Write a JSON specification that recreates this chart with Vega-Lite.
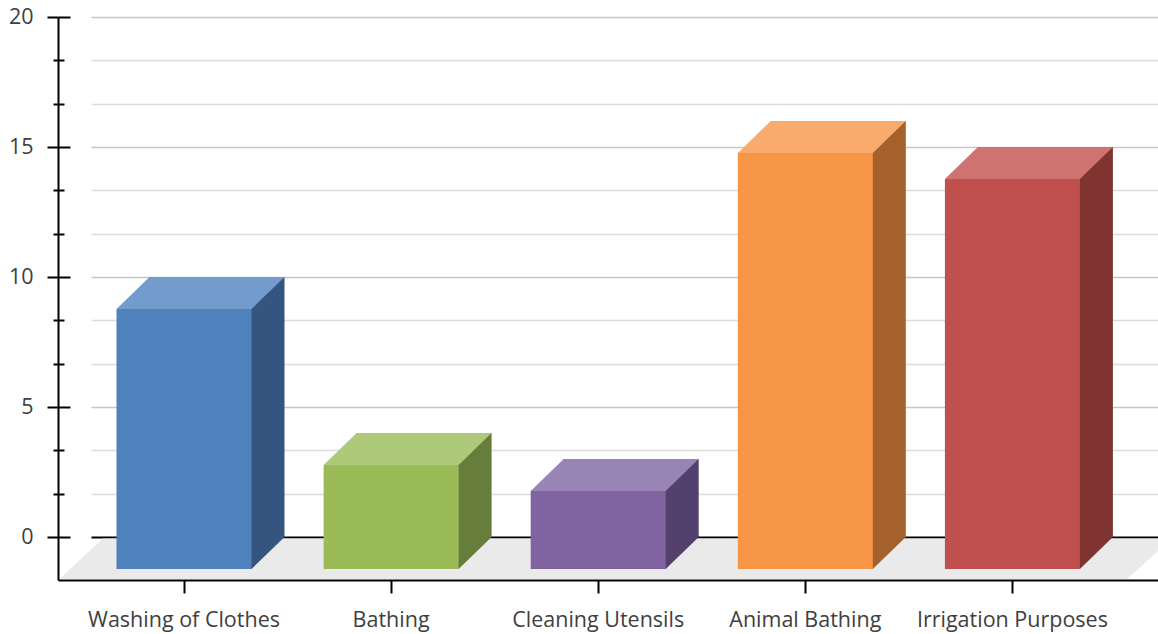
{
  "$schema": "https://vega.github.io/schema/vega-lite/v6.json",
  "width": 1055,
  "height": 520,
  "autosize": {"type": "none"},
  "padding": {"left": 103, "top": 17, "right": 0, "bottom": 97},
  "background": "white",
  "config": {
    "view": {"stroke": null},
    "axis": {"labelFont": "Open Sans", "labelFontSize": 21.5, "labelColor": "#404040", "title": null, "labelLimit": 0}
  },
  "data": {
    "values": [
      {"use": "Washing of Clothes", "value": 10},
      {"use": "Bathing", "value": 4},
      {"use": "Cleaning Utensils", "value": 3},
      {"use": "Animal Bathing", "value": 16},
      {"use": "Irrigation Purposes", "value": 15}
    ]
  },
  "resolve": {"scale": {"x": "independent", "y": "independent", "color": "independent"}},
  "layer": [
    {
      "transform": [{"aggregate": [{"op": "count", "as": "n"}]}],
      "mark": {"type": "point", "filled": true, "shape": "M -81 1.5 L -124.5 42 L 943 42 L 988 1.5 Z", "size": 4, "color": "#eaeaea", "opacity": 1, "strokeWidth": 0},
      "encoding": {
        "x": {
          "datum": "Washing of Clothes", "type": "nominal",
          "scale": {"type": "band", "domain": ["Washing of Clothes", "Bathing", "Cleaning Utensils", "Animal Bathing", "Irrigation Purposes"], "range": [-45, 1055], "paddingInner": 0.34814, "paddingOuter": 0.32979, "align": 0.4283},
          "axis": {"orient": "bottom", "offset": 43, "domain": true, "domainColor": "#000000", "domainWidth": 2, "ticks": true, "tickColor": "#000000", "tickWidth": 2, "tickSize": 13, "labelAngle": 0, "labelPadding": 16, "labelOverlap": false, "labelBound": false, "labelLimit": 0, "grid": false, "zindex": 1}
        },
        "y": {
          "datum": 0, "type": "quantitative",
          "scale": {"domain": [-1.653846, 20], "range": [563, 0], "nice": false, "zero": false},
          "axis": {"orient": "left", "offset": 45, "values": [0, 1.666667, 3.333333, 5, 6.666667, 8.333333, 10, 11.666667, 13.333333, 15, 16.666667, 18.333333, 20], "labelExpr": "datum.value % 5 === 0 ? datum.value : ''", "domain": true, "domainColor": "#000000", "domainWidth": 2, "ticks": true, "tickColor": "#000000", "tickWidth": 2, "tickSize": {"condition": {"test": "datum.value % 5 === 0", "value": 11}, "value": 5}, "labelPadding": 14, "labelFlush": false, "labelOverlap": false, "grid": false, "zindex": 1}
        }
      }
    },
    {
      "layer": [
        {
          "mark": {"type": "bar"},
          "encoding": {
            "x": {
              "field": "use", "type": "nominal", "sort": null,
              "scale": {"type": "band", "domain": ["Washing of Clothes", "Bathing", "Cleaning Utensils", "Animal Bathing", "Irrigation Purposes"], "range": [-12, 1088], "paddingInner": 0.34814, "paddingOuter": 0.32979, "align": 0.4283},
              "axis": null
            },
            "y": {
              "field": "value", "type": "quantitative",
              "scale": {"domain": [0, 20], "range": [520, 0], "nice": false},
              "axis": {"orient": "left", "offset": 45, "values": [0, 1.666667, 3.333333, 5, 6.666667, 8.333333, 10, 11.666667, 13.333333, 15, 16.666667, 18.333333, 20], "domain": false, "labels": false, "ticks": true, "tickColor": "#000000", "tickWidth": 2, "tickSize": {"condition": {"test": "datum.value % 5 === 0", "value": -12}, "value": -6}, "grid": true, "gridColor": {"condition": [{"test": "datum.value === 0", "value": "#000000"}, {"test": "datum.value % 5 === 0", "value": "#c6c6c6"}], "value": "#dcdcdc"}, "gridWidth": {"condition": {"test": "datum.value === 0", "value": 2}, "value": 1.6}}
            },
            "color": {
              "field": "use", "type": "nominal",
              "scale": {"domain": ["Washing of Clothes", "Bathing", "Cleaning Utensils", "Animal Bathing", "Irrigation Purposes"], "range": ["#34557f", "#677d3b", "#53406c", "#a5612c", "#7f3432"]},
              "legend": null
            }
          }
        },
        {
          "mark": {"type": "point", "filled": true, "shape": "M 33.5 -1 L 33.5 32 L 34.5 32 L 67.5 0 L 67.5 -1 Z", "size": 4, "opacity": 1, "strokeWidth": 0},
          "encoding": {
            "x": {
              "field": "use", "type": "nominal", "sort": null,
              "scale": {"type": "band", "domain": ["Washing of Clothes", "Bathing", "Cleaning Utensils", "Animal Bathing", "Irrigation Purposes"], "range": [-12, 1088], "paddingInner": 0.34814, "paddingOuter": 0.32979, "align": 0.4283},
              "axis": null
            },
            "y": {"datum": 0, "type": "quantitative"},
            "color": {"field": "use", "type": "nominal", "legend": null}
          }
        }
      ]
    },
    {
      "mark": {"type": "bar"},
      "encoding": {
        "x": {
          "field": "use", "type": "nominal", "sort": null,
          "scale": {"type": "band", "domain": ["Washing of Clothes", "Bathing", "Cleaning Utensils", "Animal Bathing", "Irrigation Purposes"], "range": [-45, 1055], "paddingInner": 0.34814, "paddingOuter": 0.32979, "align": 0.4283},
          "axis": null
        },
        "y": {
          "field": "value", "type": "quantitative",
          "scale": {"domain": [0, 20], "range": [552, 32], "nice": false},
          "axis": null
        },
        "color": {
          "field": "use", "type": "nominal",
          "scale": {"domain": ["Washing of Clothes", "Bathing", "Cleaning Utensils", "Animal Bathing", "Irrigation Purposes"], "range": ["#4f81bd", "#9bbb59", "#8064a2", "#f79646", "#c0504d"]},
          "legend": null
        }
      }
    },
    {
      "mark": {"type": "point", "filled": true, "shape": "M -67.5 0 L 67.5 0 L 100.5 -32 L -34.5 -32 Z", "size": 4, "opacity": 1, "strokeWidth": 0},
      "encoding": {
        "x": {
          "field": "use", "type": "nominal", "sort": null,
          "scale": {"type": "band", "domain": ["Washing of Clothes", "Bathing", "Cleaning Utensils", "Animal Bathing", "Irrigation Purposes"], "range": [-45, 1055], "paddingInner": 0.34814, "paddingOuter": 0.32979, "align": 0.4283},
          "axis": null
        },
        "y": {
          "field": "value", "type": "quantitative",
          "scale": {"domain": [0, 20], "range": [552, 32], "nice": false},
          "axis": null
        },
        "color": {
          "field": "use", "type": "nominal",
          "scale": {"domain": ["Washing of Clothes", "Bathing", "Cleaning Utensils", "Animal Bathing", "Irrigation Purposes"], "range": ["#739bcc", "#afc97b", "#9984b6", "#f8ab6c", "#ce7370"]},
          "legend": null
        }
      }
    }
  ]
}
